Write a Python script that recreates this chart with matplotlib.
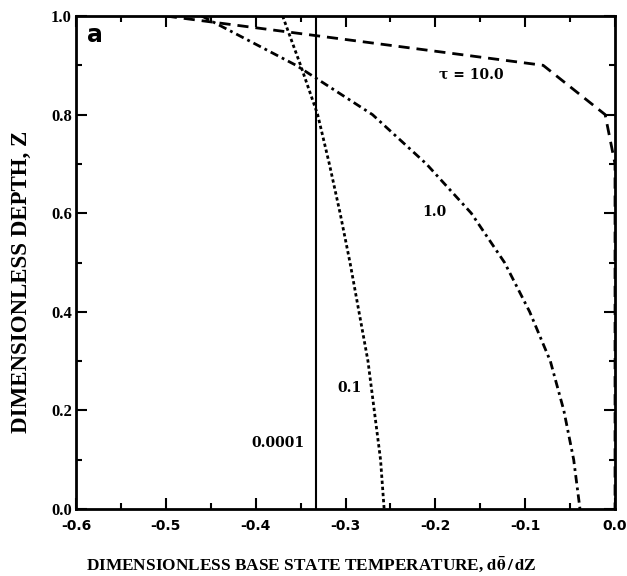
import numpy as np
import matplotlib
matplotlib.use('Agg')
import matplotlib.pyplot as plt
from matplotlib.ticker import MultipleLocator

# depth nodes (Z) and gradient values for each tau
z = [1.0, 0.9, 0.8, 0.7, 0.6, 0.5, 0.4, 0.3, 0.2, 0.1, 0.0]
g_01 = [-0.370, -0.350, -0.331, -0.318, -0.306, -0.295, -0.285, -0.275, -0.268, -0.261, -0.257]
g_10 = [-0.460, -0.355, -0.270, -0.210, -0.160, -0.123, -0.095, -0.072, -0.057, -0.046, -0.039]
z_100 = [1.0, 0.9, 0.8, 0.7, 0.0]
g_100 = [-0.500, -0.080, -0.011, 0.000, 0.000]
g_0001 = -1.0 / 3.0

xticks = [-0.6, -0.5, -0.4, -0.3, -0.2, -0.1, 0.0]
xticklabels = ['-0.6', '-0.5', '-0.4', '-0.3', '-0.2', '-0.1', '0.0']
yticks = [0.0, 0.2, 0.4, 0.6, 0.8, 1.0]

plt.rcParams['mathtext.fontset'] = 'stix'

fig = plt.figure(figsize=(6.27, 5.76), dpi=100)
ax = fig.add_axes([0.1212, 0.1163, 0.8597, 0.8559])

ax.axvline(g_0001, color='black', lw=1.5)
ax.plot(g_01, z, color='black', lw=2.0, dashes=(1.2, 1.0))
ax.plot(g_10, z, color='black', lw=2.0, dashes=(3.0, 1.5, 1.0, 1.5))
ax.plot(g_100, z_100, color='black', lw=2.0, dashes=(4.0, 2.5))

ax.set_xlim(-0.6, 0.0)
ax.set_ylim(0.0, 1.0)
ax.set_xticks(xticks)
ax.set_xticklabels(xticklabels, fontfamily='DejaVu Sans', fontweight='bold', fontsize=10)
ax.set_yticks(yticks)
ax.set_yticklabels(['%.1f' % v for v in yticks], fontfamily='Liberation Serif',
                   fontweight='bold', fontsize=12)
ax.xaxis.set_minor_locator(MultipleLocator(0.05))
ax.yaxis.set_minor_locator(MultipleLocator(0.1))
ax.tick_params(which='both', direction='in', top=True, right=True, width=1.5)
ax.tick_params(which='major', length=8)
ax.tick_params(axis='x', which='major', pad=7)
ax.tick_params(axis='y', which='major', pad=3)
ax.tick_params(which='minor', length=4)
for s in ax.spines.values():
    s.set_linewidth(2.0)

tfont = dict(fontfamily='DejaVu Serif', fontweight='bold', fontsize=10)
ax.text(-0.16, 0.88, '\u03c4 = 10.0', ha='center', va='center', **tfont)
ax.text(-0.201, 0.603, '1.0', ha='center', va='center', **tfont)
ax.text(-0.296, 0.245, '0.1', ha='center', va='center', **tfont)
ax.text(-0.375, 0.134, '0.0001', ha='center', va='center', **tfont)
ax.text(0.02, 0.985, 'a', transform=ax.transAxes, ha='left', va='top',
        fontfamily='DejaVu Sans', fontweight='bold', fontsize=17)

fig.text(311 / 627, 1 - 564 / 576,
         r'DIMENSIONLESS BASE STATE TEMPERATURE, $\mathbf{d\bar{\theta}\,/\,dZ}$',
         ha='center', va='center', fontfamily='Liberation Serif', fontweight='bold',
         fontsize=12.4)
fig.text(21 / 627, 1 - 282 / 576, 'DIMENSIONLESS DEPTH, Z', rotation=90,
         ha='center', va='center', fontfamily='Liberation Serif', fontweight='bold',
         fontsize=16.5)

fig.savefig('out.png', dpi=100, facecolor='white')
